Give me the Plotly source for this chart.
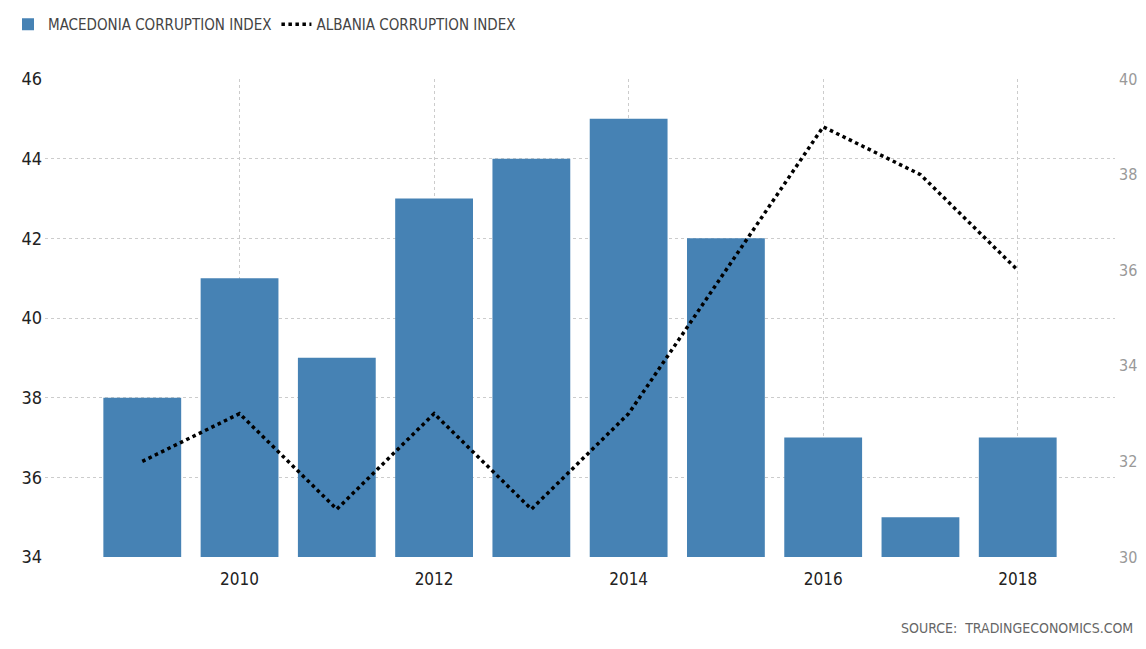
import plotly.graph_objects as go

years = [2009, 2010, 2011, 2012, 2013, 2014, 2015, 2016, 2017, 2018]
macedonia = [38, 41, 39, 43, 44, 45, 42, 37, 35, 37]
albania = [32, 33, 31, 33, 31, 33, 36, 39, 38, 36]
x_ticks = [2010, 2012, 2014, 2016, 2018]
left_ticks = [34, 36, 38, 40, 42, 44, 46]
right_ticks = [30, 32, 34, 36, 38, 40]

FONT = "DejaVu Sans Condensed, Liberation Sans Narrow, sans-serif"

W, H = 1130, 633

fig = go.Figure()
fig.add_trace(go.Bar(
    x=years, y=macedonia, name="MACEDONIA CORRUPTION INDEX",
    marker=dict(color="#4682B4", line=dict(width=0)), width=0.8,
    yaxis="y",
))
fig.add_trace(go.Scatter(
    x=years, y=albania, name="ALBANIA CORRUPTION INDEX", mode="lines",
    line=dict(color="#000000", width=3.5, dash="dot"),
    yaxis="y2",
))

fig.update_layout(
    width=W, height=H,
    margin=dict(l=37, r=W - 1107, t=71, b=H - 549, autoexpand=False),
    paper_bgcolor="white", plot_bgcolor="white",
    font=dict(family=FONT, size=15, color="#222"),
    showlegend=True,
    legend=dict(orientation="h", x=-0.008, y=1.0, xref="container", yref="container",
                xanchor="left", yanchor="top",
                font=dict(family=FONT, size=15, color="#444"),
                itemwidth=30, traceorder="normal"),
    xaxis=dict(range=[2008, 2019], tickvals=x_ticks, ticktext=[str(t) for t in x_ticks],
               showgrid=True, gridcolor="#cccccc", griddash="dot", gridwidth=1,
               zeroline=False, showline=False, ticks="", ticklabelstandoff=10,
               tickfont=dict(family=FONT, size=17, color="#222")),
    yaxis=dict(range=[34, 46], tickvals=left_ticks, showgrid=True, gridcolor="#cccccc",
               griddash="dot", gridwidth=1, zeroline=False, showline=False, ticks="",
               ticklabelstandoff=2,
               tickfont=dict(family=FONT, size=18, color="#222")),
    yaxis2=dict(range=[30, 40], tickvals=right_ticks, overlaying="y", side="right",
                showgrid=False, zeroline=False, showline=False, ticks="",
                ticklabelstandoff=3,
                tickfont=dict(family=FONT, size=16, color="#999")),
    annotations=[dict(text="SOURCE:  TRADINGECONOMICS.COM", xref="paper", yref="paper",
                      x=1.019, y=-0.17, xanchor="right", yanchor="bottom", showarrow=False,
                      font=dict(family=FONT, size=14, color="#666"))],
)

fig.write_html("out.html")
